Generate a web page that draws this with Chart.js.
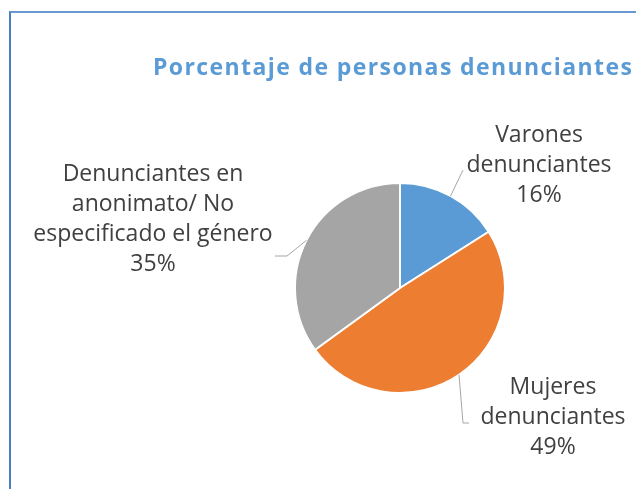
<!DOCTYPE html>
<html>
<head>
<meta charset="utf-8">
<script src="https://cdn.jsdelivr.net/npm/chart.js@4/dist/chart.umd.min.js"></script>
<style>
  body { margin: 0; background: #fff; }
  #frame {
    position: absolute; left: 9px; top: 11px; width: 700px; height: 600px;
    border-left: 2px solid #4a7ec0; border-top: 2px solid #6a98d0;
  }
  #wrap { position: absolute; left: 0; top: 0; width: 636px; height: 489px; }
</style>
</head>
<body>
<div id="frame"></div>
<div id="wrap"><canvas id="pieChart" width="636" height="489"></canvas></div>
<script>
// data
const categories = ['Varones denunciantes', 'Mujeres denunciantes', 'Denunciantes en anonimato/ No especificado el género'];
const labelLines = [
    ['Varones', 'denunciantes'],
    ['Mujeres', 'denunciantes'],
    ['Denunciantes en', 'anonimato/ No', 'especificado el género']
];
const percentages = [16, 49, 35];
const sliceColors = ['#5b9bd5', '#ed7d31', '#a5a5a5'];

const titleText = 'Porcentaje de personas denunciantes';

// label placement relative to the pie centre (first baseline), and leader-line bends
const labelOffsets = [[139, -146], [153, 106], [-247, -107]];
const leaderPaths = [
    [[63, -118]],
    [[63, 135], [69, 135]],
    [[-113, -32], [-125, -32]]
];

const labelPlugin = {
    id: 'pieLabels',
    afterDraw(chart) {
        const ctx = chart.ctx;
        const meta = chart.getDatasetMeta(0);

        // title
        ctx.save();
        ctx.font = "bold 23px 'Open Sans'";
        ctx.letterSpacing = '1.4px';
        ctx.fillStyle = '#5b9bd5';
        ctx.textAlign = 'left';
        ctx.textBaseline = 'alphabetic';
        ctx.fillText(titleText, 153, 75);
        ctx.restore();

        meta.data.forEach((arc, i) => {
            const cx = arc.x, cy = arc.y;
            const mid = (arc.startAngle + arc.endAngle) / 2;
            const r = arc.outerRadius;

            // leader line
            ctx.save();
            ctx.strokeStyle = '#a6a6a6';
            ctx.lineWidth = 1;
            ctx.beginPath();
            ctx.moveTo(cx + Math.cos(mid) * r, cy + Math.sin(mid) * r);
            leaderPaths[i].forEach(p => ctx.lineTo(cx + p[0], cy + p[1]));
            ctx.stroke();
            ctx.restore();

            // text
            const lines = labelLines[i].concat([percentages[i] + '%']);
            ctx.save();
            ctx.font = "23px 'Open Sans'";
            ctx.fillStyle = '#404040';
            ctx.textAlign = 'center';
            ctx.textBaseline = 'alphabetic';
            lines.forEach((t, j) => {
                ctx.fillText(t, cx + labelOffsets[i][0], cy + labelOffsets[i][1] + j * 30);
            });
            ctx.restore();
        });
    }
};

new Chart(document.getElementById('pieChart'), {
    type: 'pie',
    data: {
        labels: categories,
        datasets: [{
            data: percentages,
            backgroundColor: sliceColors,
            borderColor: '#ffffff',
            borderWidth: 2
        }]
    },
    options: {
        responsive: false,
        animation: false,
        layout: { padding: { left: 292, right: 128, top: 182, bottom: 95 } },
        plugins: {
            legend: { display: false },
            tooltip: { enabled: false }
        }
    },
    plugins: [labelPlugin]
});
</script>
</body>
</html>
